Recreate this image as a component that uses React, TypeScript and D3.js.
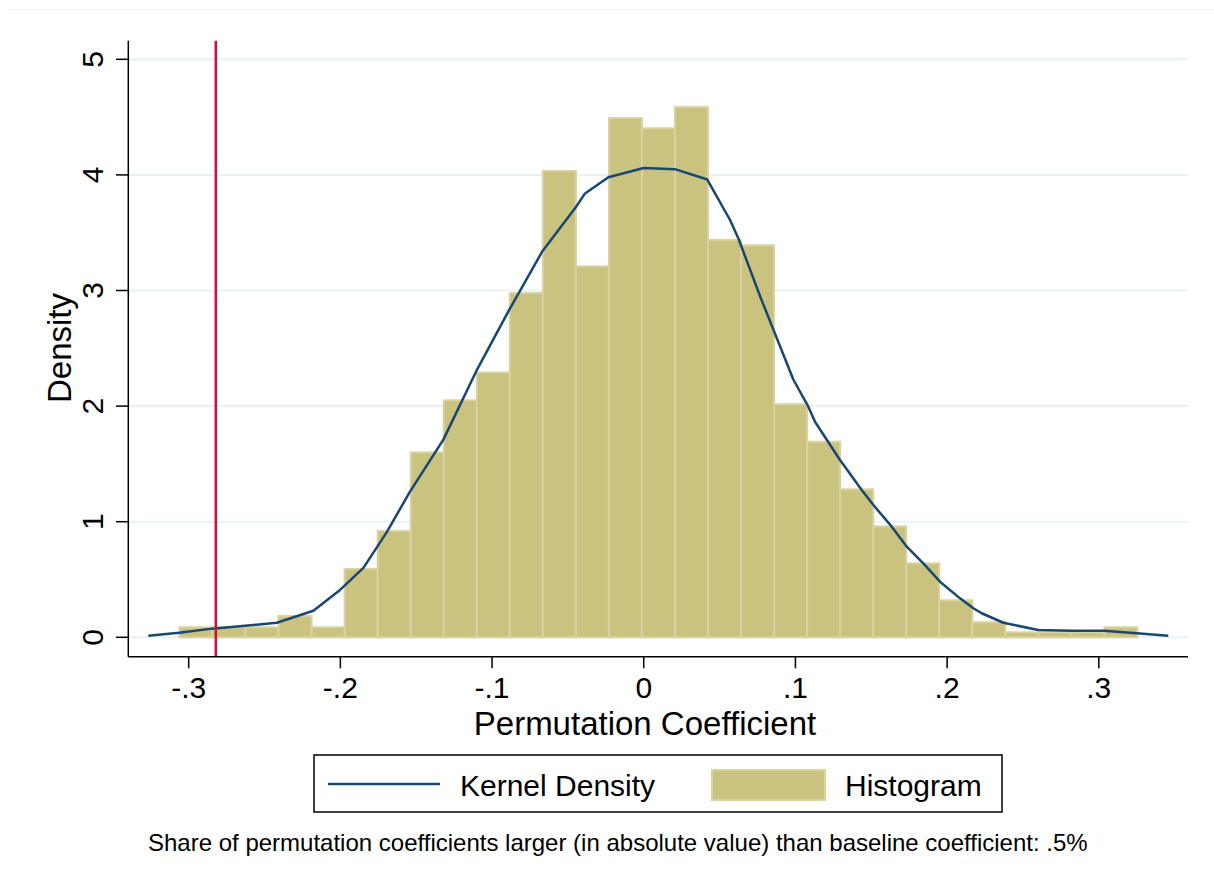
import React from "react";
import * as d3 from "d3";

// ---- data ----
const binStart = -0.3061;
const binWidth = 0.02178;
const histDensity = [
  0.087, 0.087, 0.087, 0.184, 0.087, 0.591, 0.92, 1.6, 2.05, 2.29,
  2.978, 4.034, 3.209, 4.492, 4.403, 4.587, 3.437, 3.391, 2.016, 1.692,
  1.28, 0.96, 0.64, 0.32, 0.13, 0.043, 0.043, 0.043, 0.087,
];
const kdX = [
  -0.3266, -0.3063, -0.2846, -0.2628, -0.2419, -0.2178, -0.2002, -0.1848, -0.1694, -0.1541,
  -0.1321, -0.1105, -0.0888, -0.0668, -0.0448, -0.0387, -0.0233, 0.0, 0.0206, 0.0419,
  0.0569, 0.0624, 0.0767, 0.0986, 0.1085, 0.1129, 0.1294, 0.1437, 0.1514, 0.1635,
  0.1734, 0.1843, 0.1953, 0.2085, 0.2173, 0.2228, 0.2371, 0.2601, 0.2821, 0.3036,
  0.325, 0.3458,
];
const kdY = [
  0.014, 0.04, 0.075, 0.1, 0.126, 0.23, 0.41, 0.6, 0.91, 1.26,
  1.71, 2.3, 2.83, 3.34, 3.72, 3.84, 3.98, 4.06, 4.05, 3.96,
  3.61, 3.45, 2.95, 2.23, 1.995, 1.865, 1.534, 1.274, 1.144, 0.957,
  0.784, 0.64, 0.481, 0.337, 0.251, 0.208, 0.126, 0.063, 0.057, 0.057,
  0.035, 0.014,
];
const baselineCoef = -0.2821;
const xTicks = [-0.3, -0.2, -0.1, 0, 0.1, 0.2, 0.3];
const xTickLabels = ["-.3", "-.2", "-.1", "0", ".1", ".2", ".3"];
const yTicks = [0, 1, 2, 3, 4, 5];
const yTickLabels = ["0", "1", "2", "3", "4", "5"];
const xTitle = "Permutation Coefficient";
const yTitle = "Density";
const legendLabels = ["Kernel Density", "Histogram"];
const note =
  "Share of permutation coefficients larger (in absolute value) than baseline coefficient: .5%";

// ---- styles ----
const FONT = "'Liberation Sans', Arial, Helvetica, sans-serif";
const BAR_FILL = "#cac380";
const BAR_STROKE = "#d9d3a2";
const LINE_COLOR = "#1a476f";
const RED = "#c8143c";
const GRID = "#eaf2f3";

export default function App() {
  const W = 1214;
  const H = 882;
  const left = 128.3;
  const right = 1188;
  const top = 40.7;
  const bottom = 656.7;

  const x = d3.scaleLinear().domain([-0.3398, 0.3588]).range([left, right]);
  const y = d3.scaleLinear().domain([0, 5.161]).range([637.3, top]);

  const line = d3
    .line<number>()
    .x((_, i) => x(kdX[i]))
    .y((d) => y(d))
    .curve(d3.curveLinear);

  return (
    <svg
      width={W}
      height={H}
      style={{ position: "absolute", left: 0, top: 0, display: "block", background: "#fff" }}
      fontFamily={FONT}
    >
      <rect x={0} y={0} width={W} height={H} fill="#fff" />
      <line x1={8} x2={W} y1={9.3} y2={9.3} stroke="#eef1f3" strokeWidth={1} />

      {/* gridlines */}
      {yTicks.map((t) => (
        <line key={"g" + t} x1={left} x2={right} y1={y(t)} y2={y(t)} stroke={GRID} strokeWidth={2} />
      ))}

      {/* histogram */}
      {histDensity.map((d, i) => {
        const x0 = x(binStart + i * binWidth);
        const x1 = x(binStart + (i + 1) * binWidth);
        return (
          <rect
            key={"b" + i}
            x={x0}
            y={y(d)}
            width={x1 - x0}
            height={y(0) - y(d)}
            fill={BAR_FILL}
            stroke={BAR_STROKE}
            strokeWidth={2}
          />
        );
      })}

      {/* kernel density */}
      <path d={line(kdY) || ""} fill="none" stroke={LINE_COLOR} strokeWidth={2.5} strokeLinejoin="round" />

      {/* baseline coefficient */}
      <line x1={x(baselineCoef)} x2={x(baselineCoef)} y1={top} y2={bottom} stroke={RED} strokeWidth={2.6} />

      {/* axes */}
      <line x1={left} x2={left} y1={top} y2={bottom} stroke="#000" strokeWidth={1.5} />
      <line x1={left} x2={right} y1={bottom} y2={bottom} stroke="#000" strokeWidth={1.5} />

      {yTicks.map((t, i) => (
        <g key={"yt" + t}>
          <line x1={116} x2={left} y1={y(t)} y2={y(t)} stroke="#000" strokeWidth={1.5} />
          <text
            transform={`translate(103,${y(t)}) rotate(-90)`}
            textAnchor="middle"
            fontSize={30}
            fill="#000"
          >
            {yTickLabels[i]}
          </text>
        </g>
      ))}
      <text transform={`translate(71,348) rotate(-90)`} textAnchor="middle" fontSize={33} fill="#000">
        {yTitle}
      </text>

      {xTicks.map((t, i) => (
        <g key={"xt" + t}>
          <line x1={x(t)} x2={x(t)} y1={bottom} y2={668.3} stroke="#000" strokeWidth={1.5} />
          <text x={x(t)} y={698} textAnchor="middle" fontSize={30} fill="#000">
            {xTickLabels[i]}
          </text>
        </g>
      ))}
      <text x={645} y={735} textAnchor="middle" fontSize={33} fill="#000">
        {xTitle}
      </text>

      {/* legend */}
      <rect x={314} y={755} width={688} height={57} fill="#fff" stroke="#000" strokeWidth={1.5} />
      <line x1={328} x2={440} y1={784} y2={784} stroke={LINE_COLOR} strokeWidth={2.5} />
      <text x={460} y={796} fontSize={30} fill="#000">
        {legendLabels[0]}
      </text>
      <rect x={712} y={770} width={113} height={30} fill={BAR_FILL} stroke={BAR_STROKE} strokeWidth={2} />
      <text x={845} y={796} fontSize={30} fill="#000">
        {legendLabels[1]}
      </text>

      {/* note */}
      <text x={148} y={851} fontSize={24} fill="#000">
        {note}
      </text>
    </svg>
  );
}
